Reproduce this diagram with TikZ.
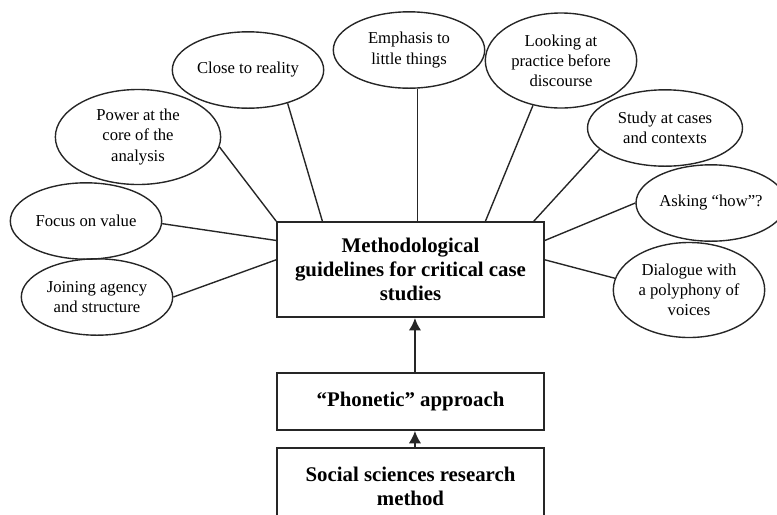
\documentclass[tikz,border=0pt]{standalone}
\usepackage{fontspec}
\setmainfont{Liberation Serif}
\usetikzlibrary{arrows.meta,shapes,calc}

\begin{document}
\begin{tikzpicture}[x=0.72pt, y=-0.72pt]
\tikzstyle{idea}=[ellipse, draw=black!85, line width=1pt, inner sep=0pt, minimum width=109pt, minimum height=55pt, align=center, font=\fontsize{12}{14.5}\selectfont]
\tikzstyle{tall}=[idea, minimum height=68.4pt]
\tikzstyle{rect}=[rectangle, draw=black!85, line width=1.3pt, minimum width=192.2pt, align=center, font=\fontsize{15}{17}\selectfont\bfseries]
\tikzstyle{link}=[line width=1pt, black!85]
\tikzstyle{connect}=[-{Latex[length=9pt,width=9pt]}, line width=1.5pt, black!85]

\useasboundingbox (0,0) rectangle (777,514);

  \node[rect, minimum height=68.4pt] (guide) at (410.5,269.5) {Methodological\\guidelines for critical case\\studies};
  \node[rect, minimum height=41pt]   (phon)   [below of =guide, node distance=95pt]   {“Phonetic” approach};
  \node[rect, minimum height=55.4pt] (social) [below of =phon,  node distance=61.2pt] {Social sciences research\\method};

  \node[tall, minimum width=119pt]   (power) at (138,137)  {Power at the\\core of the\\analysis};
  \node[idea]                        (close) at (248,70)   {Close to reality};
  \node[idea]                        (emph)  at (409,50)   {Emphasis to\\little things};
  \node[tall]                        (look)  at (561,60.5) {Looking at\\practice before\\discourse};
  \node[idea, minimum width=111.6pt] (study) at (665,128)  {Study at cases\\and contexts};
  \node[idea]                        (focus) at (86,221)   {Focus on value};
  \node[idea]                        (join)  at (97,297)   {Joining agency\\and structure};
  \node[idea, minimum width=108pt]   (ask)   at (711,203)  {Asking “how”?};
  \node[tall]                        (dial)  at (689,290)  {Dialogue with\\a polyphony of\\voices};

  
  \draw[link] (power.-7)   -- (guide.north west);
  \draw[link] (close.-40)  -- ($(guide.north west)!0.172!(guide.north east)$);
  \draw[link] (emph.-78)   -- (emph.-78 |- guide.north);
  \draw[link] (look.-122)  -- ($(guide.north west)!0.779!(guide.north east)$);
  \draw[link] (study.-162) -- ($(guide.north west)!0.959!(guide.north east)$);
  \draw[link] (focus.-2)   -- ($(guide.north west)!0.2!(guide.south west)$);
  \draw[link] (join.east)  -- ($(guide.north west)!0.4!(guide.south west)$);
  \draw[link] (ask.west)   -- ($(guide.north east)!0.2!(guide.south east)$);
  \draw[link] (dial.171)   -- ($(guide.north east)!0.4!(guide.south east)$);

  \draw[connect] ([xshift=3.2pt]social.north) -- ([xshift=3.2pt]phon.south);
  \draw[connect] ([xshift=3.2pt]phon.north)   -- ([xshift=3.2pt]guide.south);

\end{tikzpicture}
\end{document}
